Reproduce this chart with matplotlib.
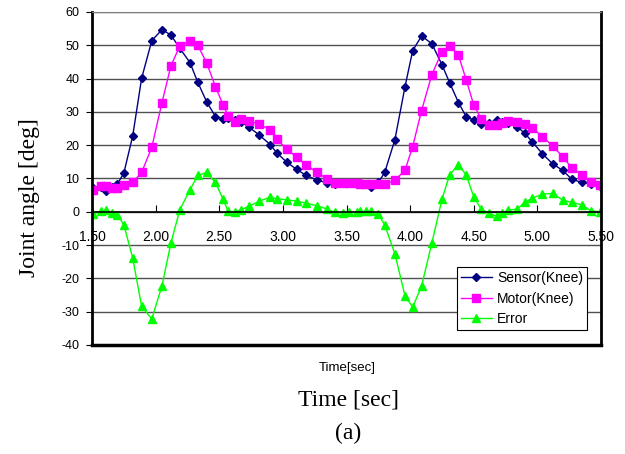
import numpy as np
import matplotlib
matplotlib.use("Agg")
import matplotlib.pyplot as plt

plt.rcParams['font.family'] = ['Liberation Sans', 'DejaVu Sans']
plt.rcParams['axes.unicode_minus'] = False

# time samples [sec] (irregular)
time = [1.51, 1.57, 1.61, 1.66, 1.70, 1.75, 1.82, 1.89, 1.97, 2.05,
        2.12, 2.19, 2.27, 2.33, 2.40, 2.47, 2.53, 2.57, 2.62, 2.67,
        2.73, 2.81, 2.90, 2.95, 3.03, 3.11, 3.18, 3.27, 3.35, 3.41,
        3.47, 3.52, 3.58, 3.61, 3.65, 3.69, 3.75, 3.80, 3.88, 3.96,
        4.02, 4.09, 4.17, 4.25, 4.31, 4.38, 4.44, 4.50, 4.56, 4.62,
        4.68, 4.72, 4.77, 4.84, 4.90, 4.96, 5.04, 5.12, 5.20, 5.27,
        5.35, 5.42, 5.49]

sensor = [7.1, 7.3, 6.3, 7.4, 8.4, 11.6, 22.8, 40.1, 51.4, 54.7,
          53.1, 49.1, 44.8, 39.0, 33.1, 28.6, 28.0, 28.3, 27.6, 27.1,
          25.5, 23.2, 20.2, 17.8, 14.9, 12.7, 11.0, 9.5, 8.7, 8.4,
          8.5, 8.6, 8.6, 8.3, 8.2, 7.4, 8.8, 11.8, 21.6, 37.6,
          48.4, 52.8, 50.5, 44.2, 38.8, 32.8, 28.6, 27.5, 26.4, 26.8,
          27.5, 27.1, 26.7, 25.6, 23.6, 21.0, 17.4, 14.4, 12.4, 9.8,
          8.8, 8.4, 7.8]

motor = [6.6, 7.6, 7.6, 7.1, 7.1, 8.1, 8.8, 11.8, 19.4, 32.8,
         43.8, 49.8, 51.4, 50.1, 44.8, 37.6, 32.1, 28.8, 27.1, 27.8,
         27.3, 26.4, 24.6, 21.9, 18.8, 16.4, 14.1, 11.8, 9.8, 8.6,
         8.6, 8.6, 8.6, 8.4, 8.4, 8.4, 8.2, 8.3, 9.4, 12.5,
         19.6, 30.4, 41.1, 48.1, 49.8, 47.0, 39.7, 32.1, 27.8, 26.2,
         26.2, 26.7, 27.2, 27.0, 26.5, 25.1, 22.6, 19.8, 16.5, 13.2,
         11.1, 8.9, 8.1]

error = [-0.6, 0.1, 0.6, -0.4, -0.9, -3.9, -13.9, -28.4, -32.2, -22.2,
         -9.4, 0.6, 6.6, 10.9, 11.8, 8.8, 3.8, 0.1, -0.1, 0.6,
         1.6, 3.1, 4.4, 3.9, 3.6, 3.2, 2.6, 1.8, 0.8, -0.2,
         -0.4, -0.2, -0.2, 0.1, 0.1, 0.2, -0.7, -3.9, -12.6, -25.3,
         -28.6, -22.3, -9.5, 3.7, 11.1, 14.1, 11.1, 4.5, 0.7, -0.4,
         -1.4, -0.4, 0.5, 0.8, 2.8, 4.1, 5.3, 5.5, 3.5, 2.8,
         2.1, 0.3, 0.0]

xticks = [1.5, 2.0, 2.5, 3.0, 3.5, 4.0, 4.5, 5.0, 5.5]
yticks = [-40, -30, -20, -10, 0, 10, 20, 30, 40, 50, 60]

fig = plt.figure(figsize=(6.25, 4.54), dpi=100)
ax = fig.add_axes([0.1472, 0.2401, 0.8144, 0.7335])

ax.plot(time, sensor, color='#000080', lw=1, marker='D', ms=4.5, label='Sensor(Knee)')
ax.plot(time, motor, color='#FF00FF', lw=1, marker='s', ms=5.5, label='Motor(Knee)')
ax.plot(time, error, color='#00FF00', lw=1, marker='^', ms=6, label='Error')

ax.set_xlim(1.5, 5.5)
ax.set_ylim(-40, 60)
ax.set_xticks(xticks)
ax.set_xticklabels(['%.2f' % v for v in xticks])
ax.set_yticks(yticks)
ax.set_yticklabels([str(v) for v in yticks])

ax.yaxis.grid(True, color='#505050', lw=1)
ax.set_axisbelow(True)

# x axis crosses at zero, ticks pointing up
ax.spines['bottom'].set_position(('data', 0))
ax.spines['bottom'].set_linewidth(1.2)
ax.spines['left'].set_linewidth(2)
ax.spines['right'].set_linewidth(2)
ax.spines['top'].set_color('#808080')
ax.axhline(-40, color='black', lw=2.5, clip_on=False)

ax.tick_params(axis='x', direction='in', length=5, pad=13, labelsize=10)
ax.tick_params(axis='y', direction='out', length=4, pad=5, labelsize=9)

leg = ax.legend(loc='lower left', bbox_to_anchor=(0.717, 0.045), fontsize=10,
                frameon=True, fancybox=False, edgecolor='black', framealpha=1,
                handlelength=2.2, labelspacing=0.45, borderpad=0.3,
                handletextpad=0.4, borderaxespad=0)
leg.get_frame().set_linewidth(0.8)

fig.text(0.048, 0.564, 'Joint angle [deg]', rotation=90, ha='center', va='center',
         family='Liberation Serif', fontsize=17)
fig.text(0.555, 0.189, 'Time[sec]', ha='center', va='center', fontsize=9.5)
fig.text(0.557, 0.119, 'Time [sec]', ha='center', va='center',
         family='Liberation Serif', fontsize=17)
fig.text(0.557, 0.046, '(a)', ha='center', va='center',
         family='Liberation Serif', fontsize=17)

fig.savefig('out.png', dpi=100)
